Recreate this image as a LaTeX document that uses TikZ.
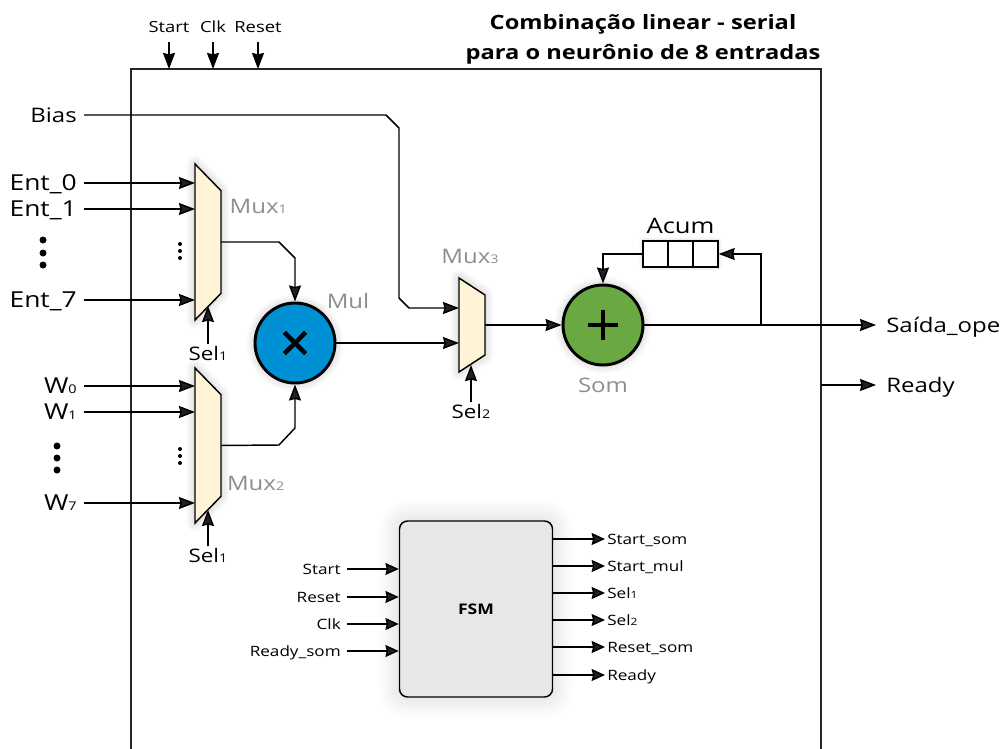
\documentclass[tikz,border=0pt]{standalone}
\usepackage{fontspec}
\setmainfont{Open Sans}[FakeStretch=1.2]
\usetikzlibrary{arrows.meta, positioning, calc, shadows.blur}

\definecolor{muxfill}{HTML}{FFF5D6}
\definecolor{mulblue}{HTML}{0091D5}
\definecolor{somgreen}{HTML}{6AA842}
\definecolor{fsmgray}{HTML}{E6E7E8}
\definecolor{labgray}{HTML}{8E8E8E}

\newcommand{\subn}[1]{{\fontsize{9pt}{9pt}\selectfont #1}}
\newcommand{\subs}[1]{{\fontsize{7.5pt}{8pt}\selectfont #1}}
\newcommand{\muxshape}[2]{%
    \draw[muxline] (#1.north west) -- ([yshift=-#2]#1.north east)
        -- ([yshift=#2]#1.south east) -- (#1.south west) -- cycle;}

\begin{document}
\begin{tikzpicture}[
    x=0.75pt, y=-0.75pt,
    font=\fontsize{15pt}{17pt}\selectfont,
    softshadow/.style={blur shadow={shadow blur steps=8, shadow xshift=0pt,
                       shadow yshift=0pt, shadow blur radius=7pt, shadow opacity=25}},
    muxline/.style={draw=black, line width=1.1pt, fill=muxfill, softshadow},
    muxbox/.style={minimum width=19.5pt, inner sep=0pt, outer sep=0pt},
    opnode/.style={circle, draw=black, line width=2.2pt, minimum size=60pt, inner sep=0pt,
                   softshadow},
    opsym/.style={line width=3.2pt},
    inlab/.style={anchor=east, inner sep=5.25pt, text depth=0pt},
    entlab/.style={inlab, font=\fontsize{16.5pt}{18pt}\selectfont},
    fsmin/.style={anchor=east, inner sep=4.5pt, text depth=0pt, font=\fontsize{10.7pt}{12pt}\selectfont},
    fsmout/.style={anchor=west, inner sep=1.5pt, text depth=0pt, font=\fontsize{10.7pt}{12pt}\selectfont},
    toplab/.style={anchor=south, inner sep=6.75pt, text depth=0pt,
                   font=\fontsize{11.5pt}{12pt}\selectfont},
    outlab/.style={anchor=west, inner sep=7.5pt, text depth=0pt},
    sellab/.style={inner sep=1pt, text depth=0pt, font=\fontsize{14pt}{15pt}\selectfont},
    greylab/.style={text=labgray},
    bigdot/.style={circle, fill=black, inner sep=0pt, minimum size=5.25pt},
    tinydot/.style={circle, fill=black, inner sep=0pt, minimum size=3pt},
    arr/.style={-{Stealth[length=12pt, width=9pt, inset=1pt]}, line width=1.1pt},
    arrs/.style={-{Stealth[length=10pt, width=9pt, inset=1pt]}, line width=1.1pt},
]
    \useasboundingbox (0,0) rectangle (1001,749);

    %==================== OUTER BOX ====================
    \coordinate (boxtl) at (131,69);
    \coordinate (boxtr) at (821,69);
    \coordinate (boxbl) at (131,749);
    \coordinate (boxbr) at (821,749);
    \draw[line width=0.9pt, draw=black!85] (boxbl) -- (boxtl) -- (boxtr) -- (boxbr);

    \node[align=center, font=\fontsize{14.8pt}{22.5pt}\selectfont\bfseries] (title) at (643,39)
        {Combinação linear - serial\\para o neurônio de 8 entradas};

    %==================== TOP PORTS ====================
    \node[toplab] (tstart) at (169,42) {Start};
    \node[toplab] (tclk) at (213,42) {Clk};
    \node[toplab] (treset) at (258,42) {Reset};
    \draw[arr] (tstart) -- (tstart |- boxtl);
    \draw[arr] (tclk) -- (tclk |- boxtl);
    \draw[arr] (treset) -- (treset |- boxtl);

    %==================== MUXES ====================
    \node[muxbox, minimum height=117pt] (mux1) at (208,242) {};
    \node[muxbox, minimum height=116.25pt] (mux2) at (208,445.5) {};
    \node[muxbox, minimum height=70.5pt] (mux3) at (472,325) {};
    \muxshape{mux1}{20pt}
    \muxshape{mux2}{20pt}
    \muxshape{mux3}{12.75pt}
    \node[greylab, right=3pt of mux1, yshift=27pt] (mux1lab) {Mux\subn{1}};
    \node[greylab, right=1pt of mux2, yshift=-28.5pt] (mux2lab) {Mux\subn{2}};
    \node[greylab, above=7pt of mux3, xshift=-1.5pt] (mux3lab) {Mux\subn{3}};

    %==================== MUX 1 INPUTS ====================
    \node[inlab] (bias) at (84,115) {Bias};
    \node[entlab] (ent0) at (84,183) {Ent\_0};
    \node[entlab] (ent1) at (84,209) {Ent\_1};
    \node[entlab] (ent7) at (84,300) {Ent\_7};
    \draw[arr] (ent0) -- (ent0 -| mux1.west);
    \draw[arr] (ent1) -- (ent1 -| mux1.west);
    \draw[arr] (ent7) -- (ent7 -| mux1.west);
    \node[bigdot] (ed1) at (43,240) {};
    \node[bigdot] (ed2) at (43,253) {};
    \node[bigdot] (ed3) at (43,265) {};
    \node[tinydot] (md1) at (180,244) {};
    \node[tinydot] (md2) at (180,251) {};
    \node[tinydot] (md3) at (180,258) {};

    %==================== MUX 2 INPUTS ====================
    \node[entlab] (w0) at (84,386) {W\subn{0}};
    \node[entlab] (w1) at (84,412) {W\subn{1}};
    \node[entlab] (w7) at (84,503) {W\subn{7}};
    \draw[arr] (w0) -- (w0 -| mux2.west);
    \draw[arr] (w1) -- (w1 -| mux2.west);
    \draw[arr] (w7) -- (w7 -| mux2.west);
    \node[bigdot] (wd1) at (57,446) {};
    \node[bigdot] (wd2) at (57,458) {};
    \node[bigdot] (wd3) at (57,470) {};
    \node[tinydot] (nd1) at (180,449) {};
    \node[tinydot] (nd2) at (180,456) {};
    \node[tinydot] (nd3) at (180,463) {};

    %==================== SELECT LINES ====================
    \node[sellab] (sel1a) at (208,353) {Sel\subn{1}};
    \node[sellab] (sel1b) at (208,555) {Sel\subn{1}};
    \node[sellab] (sel2) at (471,411) {Sel\subn{2}};
    \coordinate (sel1atip) at (208,306);
    \coordinate (sel1btip) at (208,510);
    \coordinate (sel2tip) at (471,365);
    \draw[arr] (sel1a) -- (sel1atip);
    \draw[arr] (sel1b) -- (sel1btip);
    \draw[arr] (sel2) -- (sel2tip);

    %==================== MULTIPLIER ====================
    \node[opnode, fill=mulblue] (mul) at (295,343) {};
    \draw[opsym] ([shift={(-8pt,-8pt)}]mul.center) -- ([shift={(8pt,8pt)}]mul.center);
    \draw[opsym] ([shift={(-8pt,8pt)}]mul.center) -- ([shift={(8pt,-8pt)}]mul.center);
    \node[greylab] (mullab) at (348,301) {Mul};
    \draw[arr] (mux1.east) -- (279,242) -- (295,258) -- (mul.north);
    \draw[arr] (mux2.east) -- (279,445) -- (295,428) -- (mul.south);

    %==================== ADDER + ACCUMULATOR ====================
    \node[opnode, fill=somgreen] (som) at (603,325) {};
    \draw[opsym] ([xshift=-11.5pt]som.center) -- ([xshift=11.5pt]som.center);
    \draw[opsym] ([yshift=-11.5pt]som.center) -- ([yshift=11.5pt]som.center);
    \node[greylab, below=5pt of som] (somlab) {Som};
    \node[draw=black, line width=1.1pt, fill=white, minimum width=56.25pt, minimum height=19.5pt,
          inner sep=0pt, blur shadow={shadow blur steps=6, shadow xshift=0pt, shadow yshift=0pt,
          shadow blur radius=3pt, shadow opacity=25}] (acum) at (680.5,254) {};
    \draw[line width=1.1pt] ([xshift=-9.4pt]acum.north) -- ([xshift=-9.4pt]acum.south);
    \draw[line width=1.1pt] ([xshift=9.4pt]acum.north) -- ([xshift=9.4pt]acum.south);
    \node[above=1.5pt of acum, font=\fontsize{16pt}{18pt}\selectfont] (acumlab) {Acum};
    \coordinate (fb) at (761,325);

    \draw[arr] (mux3.east) -- (som.west);
    \draw[arr] (acum.west) -| (som.north);
    \draw[arr] (fb) |- (acum.east);

    %==================== OUTPUTS ====================
    \node[outlab] (saida) at (876,325) {Saída\_ope};
    \node[outlab] (ready) at (876,385) {Ready};
    \coordinate (rdyfrom) at (821,385);
    \draw[arr] (som.east) -- (saida.west);
    \draw[arr] (rdyfrom) -- (ready.west);

    %==================== BIAS + MUL TO MUX 3 ====================
    \coordinate (biasin) at (409,308);
    \draw[arr] (bias) -- (386,115) -- (399,128) -- (399,298) -- (biasin) -- (biasin -| mux3.west);
    \draw[arr] (mul.east) -- (mul.east -| mux3.west);

    %==================== FSM ====================
    \node[draw=black, line width=1.1pt, fill=fsmgray, rounded corners=6pt, minimum width=114.75pt,
          minimum height=132pt, font=\fontsize{11pt}{13pt}\selectfont\bfseries,
          blur shadow={shadow blur steps=10, shadow xshift=0pt, shadow yshift=0pt,
          shadow blur radius=16pt, shadow opacity=18}] (fsm) at (476,609) {FSM};

    \node[fsmin] (fstart) at (347,569) {Start};
    \node[fsmin] (freset) at (347,597) {Reset};
    \node[fsmin] (fclk) at (347,624) {Clk};
    \node[fsmin] (frdy) at (347,651) {Ready\_som};
    \foreach \n in {fstart,freset,fclk,frdy}
        \draw[arrs] (\n) -- (\n -| fsm.west);

    \node[fsmout] (ostart) at (605,539) {Start\_som};
    \node[fsmout] (omul) at (605,566) {Start\_mul};
    \node[fsmout] (osel1) at (605,593) {Sel\subs{1}};
    \node[fsmout] (osel2) at (605,620) {Sel\subs{2}};
    \node[fsmout] (orst) at (605,647) {Reset\_som};
    \node[fsmout] (ordy) at (605,675) {Ready};
    \foreach \n in {ostart,omul,osel1,osel2,orst,ordy}
        \draw[arrs] (\n -| fsm.east) -- (\n);

\end{tikzpicture}
\end{document}
